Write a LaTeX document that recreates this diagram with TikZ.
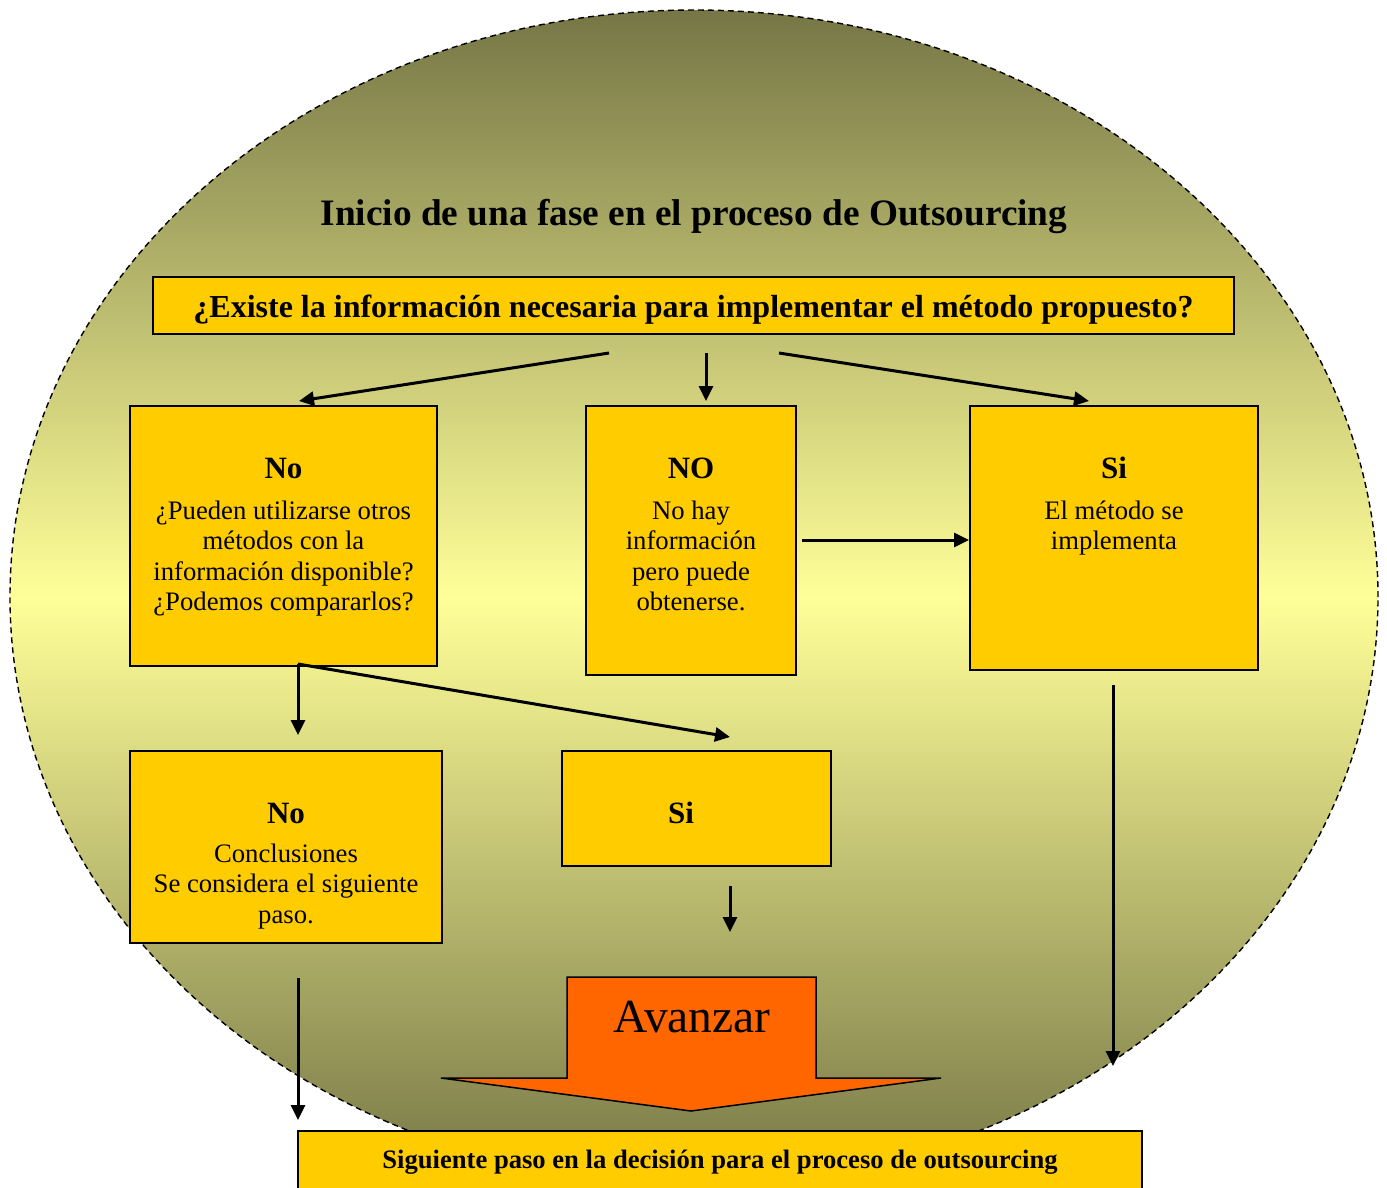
\documentclass[tikz,border=0pt]{standalone}
\usepackage{fontspec}
\setmainfont{Liberation Serif}
\usetikzlibrary{arrows.meta}
\definecolor{olivetop}{RGB}{118,118,70}
\definecolor{olivebot}{RGB}{118,118,70}
\definecolor{paleyel}{RGB}{255,255,153}
\definecolor{boxyel}{HTML}{FFCC00}
\definecolor{advorange}{HTML}{FF6600}
\tikzset{
  fbox/.style={draw=black, line width=2pt, fill=boxyel, inner sep=0pt},
  conn/.style={line width=3pt, -{Triangle[length=15pt,width=14pt]}},
  btext/.style={inner sep=0pt, anchor=base, align=center},
}
\newcommand{\bodyfont}{\fontsize{26.7}{30.5}\selectfont}
\newcommand{\headfont}{\fontsize{31}{31}\selectfont\bfseries}
\begin{document}
\begin{tikzpicture}[x=1pt,y=-1pt]
\useasboundingbox (0,0) rectangle (1387,1187);
\clip (0,0) rectangle (1387,1187);
% background ellipse
\path[top color=olivetop, bottom color=olivebot, middle color=paleyel]
  (694,597) ellipse [x radius=684pt, y radius=587pt];
\draw[black, line width=1.4pt, dash pattern=on 6pt off 4pt]
  (694,597) ellipse [x radius=684pt, y radius=587pt];
% title
\node[btext] (title) at (694,225) {\fontsize{37.3}{40}\selectfont\bfseries Inicio de una fase en el proceso de Outsourcing};
% question box
\node[fbox, minimum width=1081pt, minimum height=57pt] (q) at (693.5,305.5) {};
\node[btext] (qt) at (693.5,317) {\fontsize{32}{34}\selectfont\bfseries ¿Existe la información necesaria para implementar el método propuesto?};
% second row
\node[fbox, minimum width=307pt, minimum height=260pt] (bno) at (283.5,536) {};
\node[fbox, minimum width=210pt, minimum height=269pt] (bNO) at (691,540.5) {};
\node[fbox, minimum width=288pt, minimum height=264pt] (bsi) at (1114,538) {};
\node[btext] (tno) at (283.5,478) {\bodyfont\begin{tabular}[t]{@{}c@{}}{\headfont No}\\[10.5pt]
¿Pueden utilizarse otros\\ métodos con la\\ información disponible?\\ ¿Podemos compararlos?\end{tabular}};
\node[btext] (tNO) at (691,478) {\bodyfont\begin{tabular}[t]{@{}c@{}}{\headfont NO}\\[10.5pt]
No hay\\ información\\ pero puede\\ obtenerse.\end{tabular}};
\node[btext] (tsi) at (1114,478) {\bodyfont\begin{tabular}[t]{@{}c@{}}{\headfont Si}\\[10.5pt]
El método se\\ implementa\end{tabular}};
% third row
\node[fbox, minimum width=312pt, minimum height=192pt] (bcon) at (286,847) {};
\node[fbox, minimum width=269pt, minimum height=115pt] (bsi2) at (696.5,808.5) {};
\node[btext] (tcon) at (286,823) {\bodyfont\begin{tabular}[t]{@{}c@{}}{\headfont No}\\[8.5pt]
Conclusiones\\ Se considera el siguiente\\ paso.\end{tabular}};
\node[btext] (tsi2) at (681,823) {\headfont Si};
% Avanzar arrow
\draw[fill=advorange, line width=1.5pt, line join=miter]
  (567,977) -- (816,977) -- (816,1078) -- (941,1078) -- (691,1111) -- (441,1078) -- (567,1078) -- cycle;
\node[btext] (adv) at (692,1032) {\fontsize{47.5}{50}\selectfont Avanzar};
% bottom box
\node[fbox, minimum width=844pt, minimum height=69pt] (bot) at (720,1165.5) {};
\node[btext] (bott) at (720,1168) {\fontsize{26.6}{28}\selectfont\bfseries Siguiente paso en la decisión para el proceso de outsourcing};
% connector end points
\coordinate (a1s) at (609,353); \coordinate (a1e) at (299,401);
\coordinate (a2s) at (706,353); \coordinate (a2e) at (706,401);
\coordinate (a3s) at (779,353); \coordinate (a3e) at (1089,401);
\coordinate (a4s) at (802,540); \coordinate (a4e) at (969,540);
\coordinate (a5s) at (298,664); \coordinate (a5e) at (298,735);
\coordinate (a6e) at (730,737);
\coordinate (a7s) at (730,886); \coordinate (a7e) at (730,932);
\coordinate (a8s) at (1113,685); \coordinate (a8e) at (1113,1066);
\coordinate (a9s) at (298,978); \coordinate (a9e) at (298,1120);
\draw[conn] (a1s) -- (a1e);
\draw[conn] (a2s) -- (a2e);
\draw[conn] (a3s) -- (a3e);
\draw[conn] (a4s) -- (a4e);
\draw[conn] (a5s) -- (a5e);
\draw[conn] (a5s) -- (a6e);
\draw[conn] (a7s) -- (a7e);
\draw[conn] (a8s) -- (a8e);
\draw[conn] (a9s) -- (a9e);
\end{tikzpicture}
\end{document}
